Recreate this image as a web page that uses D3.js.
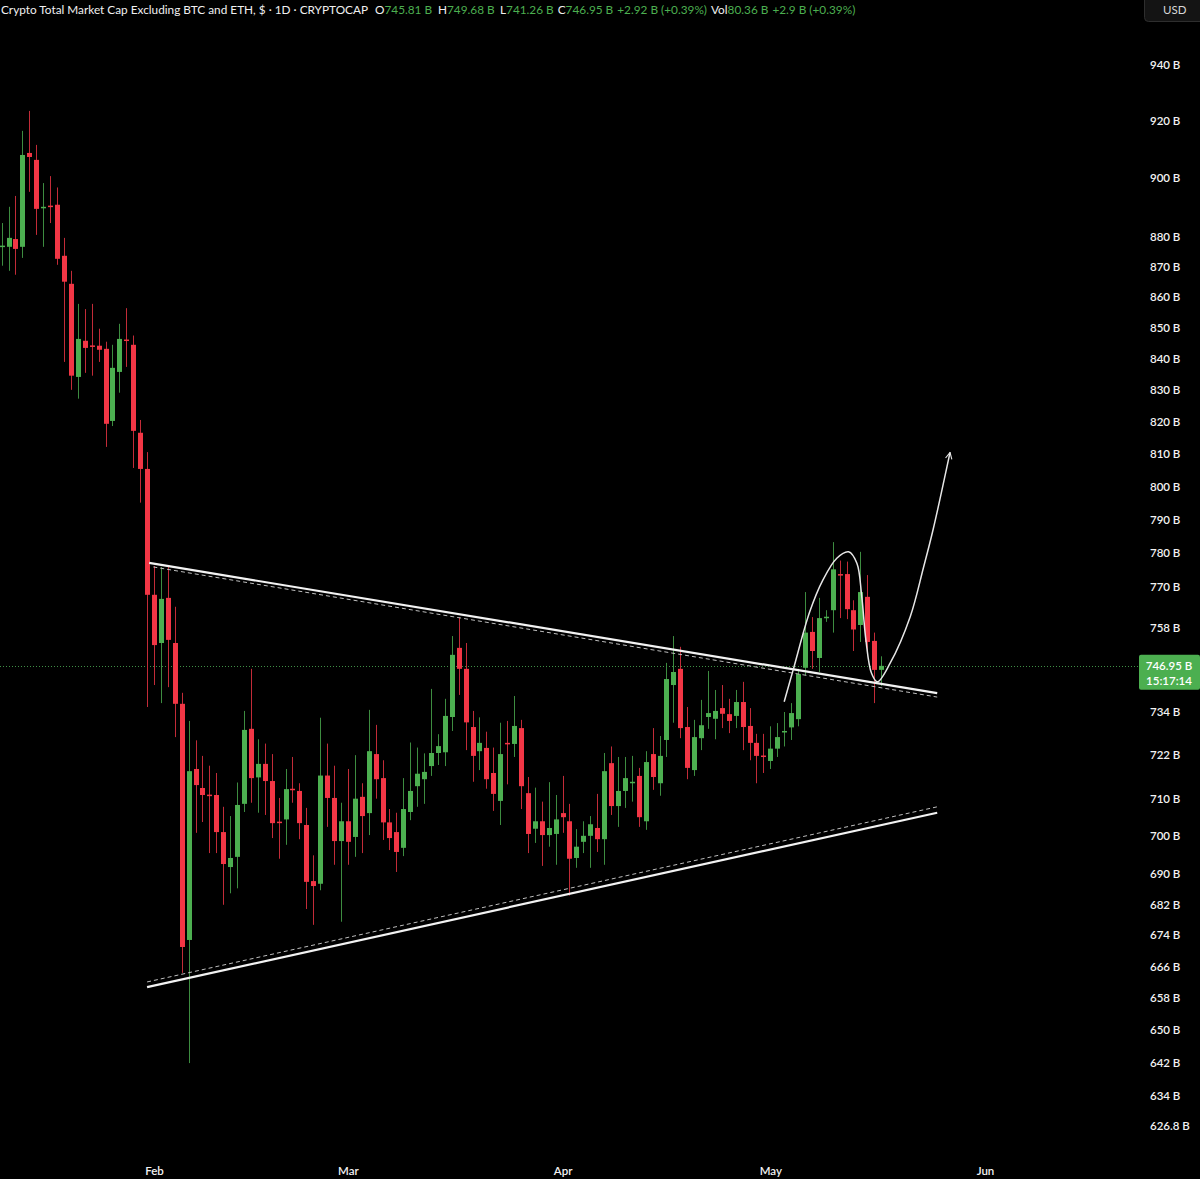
<!DOCTYPE html>
<html>
<head>
<meta charset="utf-8">
<script src="https://cdn.jsdelivr.net/npm/d3@7"></script>
<style>
  html, body { margin: 0; padding: 0; background: #000; }
  svg { display: block; }
  text { font-family: Lato, "Noto Sans", sans-serif; }
</style>
</head>
<body>
<svg id="chart" width="1200" height="1179"></svg>
<script>
// ---------- DATA ----------
const dates = [
  "2025-01-10","2025-01-11","2025-01-12","2025-01-13","2025-01-14","2025-01-15","2025-01-16","2025-01-17","2025-01-18","2025-01-19",
  "2025-01-20","2025-01-21","2025-01-22","2025-01-23","2025-01-24","2025-01-25","2025-01-26","2025-01-27","2025-01-28","2025-01-29",
  "2025-01-30","2025-01-31",
  "2025-02-01","2025-02-02","2025-02-03","2025-02-04","2025-02-05","2025-02-06","2025-02-07","2025-02-08","2025-02-09","2025-02-10",
  "2025-02-11","2025-02-12","2025-02-13","2025-02-14","2025-02-15","2025-02-16","2025-02-17","2025-02-18","2025-02-19","2025-02-20",
  "2025-02-21","2025-02-22","2025-02-23","2025-02-24","2025-02-25","2025-02-26","2025-02-27","2025-02-28",
  "2025-03-01","2025-03-02","2025-03-03","2025-03-04","2025-03-05","2025-03-06","2025-03-07","2025-03-08","2025-03-09","2025-03-10",
  "2025-03-11","2025-03-12","2025-03-13","2025-03-14","2025-03-15","2025-03-16","2025-03-17","2025-03-18","2025-03-19","2025-03-20",
  "2025-03-21","2025-03-22","2025-03-23","2025-03-24","2025-03-25","2025-03-26","2025-03-27","2025-03-28","2025-03-29","2025-03-30",
  "2025-03-31",
  "2025-04-01","2025-04-02","2025-04-03","2025-04-04","2025-04-05","2025-04-06","2025-04-07","2025-04-08","2025-04-09","2025-04-10",
  "2025-04-11","2025-04-12","2025-04-13","2025-04-14","2025-04-15","2025-04-16","2025-04-17","2025-04-18","2025-04-19","2025-04-20",
  "2025-04-21","2025-04-22","2025-04-23","2025-04-24","2025-04-25","2025-04-26","2025-04-27","2025-04-28","2025-04-29","2025-04-30",
  "2025-05-01","2025-05-02","2025-05-03","2025-05-04","2025-05-05","2025-05-06","2025-05-07","2025-05-08","2025-05-09","2025-05-10",
  "2025-05-11","2025-05-12","2025-05-13","2025-05-14","2025-05-15","2025-05-16","2025-05-17"
];
const open = [
  876.5,876.6,879.2,876.6,908.6,906.2,889.7,890.5,890.8,873.6,
  864.3,834.1,845.7,844.2,844.1,843.1,820.2,835.7,846.1,844.4,
  816.5,805.3,
  767.5,753.5,766.6,753.5,736.2,672.7,718.1,712.9,711.1,711.0,
  701.0,691.7,694.4,708.6,729.2,715.8,719.5,714.8,703.8,704.4,
  712.7,712.1,702.9,688.0,687.3,716.3,710.2,698.6,
  703.9,699.7,710.5,706.1,722.2,715.6,703.6,701.0,696.8,706.4,
  713.4,715.3,718.9,722.5,722.7,732.5,752.1,746.1,729.7,723.0,
  723.9,717.0,709.4,725.3,725.0,729.4,711.5,701.9,703.9,700.2,
  700.5,
  706.1,703.9,694.1,698.4,700.0,702.1,699.1,719.7,708.0,712.1,
  714.4,716.2,703.9,722.2,714.2,726.1,741.5,746.1,729.7,717.8,
  726.6,732.5,732.0,735.0,733.3,732.8,736.7,730.0,725.3,721.8,
  720.3,723.7,728.4,729.6,731.9,746.4,756.7,749.2,760.9,763.0,
  773.6,773.6,763.0,758.7,766.9,754.1,745.81
];
const high = [
  884.6,890.1,893.8,916.3,923.3,911.4,898.2,900.6,896.7,879.6,
  868.6,857.7,856.0,857.7,849.6,845.4,844.4,851.2,856.3,847.4,
  820.5,810.5,
  776.0,775.7,775.7,764.0,739.3,731.4,726.0,721.7,719.0,717.0,
  707.8,705.3,714.4,734.2,746.1,726.3,725.1,722.2,710.2,718.1,
  721.4,714.2,707.5,694.8,732.3,725.1,719.0,708.9,
  718.1,721.9,714.2,734.5,730.3,720.5,707.2,706.2,715.6,725.4,
  724.0,722.4,740.4,727.7,737.6,755.5,760.9,753.5,734.2,732.4,
  728.4,724.0,730.9,731.4,738.4,731.7,715.9,713.0,709.2,714.5,
  711.0,
  716.2,708.6,701.8,703.9,705.3,711.3,722.5,724.3,721.4,721.4,
  721.7,718.4,723.0,729.4,727.2,747.8,755.5,752.4,735.3,731.7,
  737.3,745.5,740.1,741.5,737.6,740.1,742.4,735.0,727.8,727.8,
  729.9,730.8,733.9,736.4,746.1,768.3,761.0,766.6,763.0,783.1,
  777.6,777.3,765.9,780.2,773.3,756.5,749.68
];
const low = [
  870.3,868.6,867.3,872.9,895.2,880.6,876.6,884.6,870.6,838.9,
  830.0,827.2,835.4,834.5,838.9,812.1,818.6,829.1,837.3,805.6,
  795.0,735.3,
  741.5,736.4,740.9,726.9,664.3,641.8,700.8,703.7,695.4,695.4,
  681.8,684.8,686.1,706.4,708.9,706.2,705.6,699.4,693.9,697.6,
  708.9,699.1,680.7,676.6,685.6,702.4,692.3,677.4,
  692.3,694.4,695.4,700.2,710.0,698.9,696.2,690.4,694.6,704.2,
  707.8,708.6,716.2,719.2,718.9,728.6,738.7,723.3,714.6,717.8,
  712.7,706.7,702.9,713.9,721.4,707.2,695.4,698.1,692.0,697.1,
  692.3,
  700.8,684.2,691.5,695.4,691.5,695.7,692.3,705.6,702.4,707.5,
  709.2,702.4,701.6,712.4,710.8,721.4,730.9,726.6,715.3,716.2,
  723.3,729.2,726.3,729.4,728.0,729.4,723.3,720.5,714.2,717.0,
  718.1,721.4,724.3,726.1,729.9,744.3,746.1,745.2,759.6,756.5,
  760.7,760.4,751.2,753.8,751.2,736.4,741.26
];
const close = [
  877.0,879.6,875.9,907.9,907.2,889.4,890.1,890.2,872.6,865.0,
  834.5,846.3,843.4,843.9,842.8,819.3,837.0,846.3,845.9,817.1,
  805.3,767.5,
  752.9,766.3,754.4,736.2,670.9,717.5,713.7,711.0,710.9,701.0,
  692.5,694.1,708.3,728.9,715.6,719.5,714.8,703.4,703.6,712.6,
  712.4,703.4,687.8,686.7,716.3,710.2,698.6,703.9,
  698.4,710.0,705.3,723.0,715.3,703.6,699.4,695.7,707.2,712.1,
  716.8,717.3,722.5,724.4,732.8,750.1,746.1,731.0,721.7,725.3,
  715.3,711.3,722.2,725.1,730.0,713.4,700.5,703.9,700.2,702.1,
  704.4,
  705.0,693.9,697.1,700.0,703.1,699.1,717.5,708.0,712.1,715.6,
  714.6,705.0,720.0,715.9,721.7,743.2,745.2,729.4,718.4,726.9,
  730.2,733.6,734.2,733.4,731.4,736.7,729.7,725.3,721.7,721.6,
  723.7,726.9,728.6,733.6,744.6,756.5,751.2,760.7,761.1,775.0,
  773.3,763.3,757.4,768.3,753.8,745.8,746.95
];

// price axis ticks (billions) and month labels
const priceTicks = [940, 920, 900, 880, 870, 860, 850, 840, 830, 820, 810, 800, 790, 780, 770, 758,
                    734, 722, 710, 700, 690, 682, 674, 666, 658, 650, 642, 634, 626.8];
const monthTicks = ["2025-02-01", "2025-03-01", "2025-04-01", "2025-05-01", "2025-06-01"];

// drawn trendlines: [days after 2025-02-01, value]
const upperLine = [[-0.7, 776.9], [113.1, 739.2]];
const upperDashed = [[-0.1, 775.7], [113.1, 738.1]];
const lowerLine = [[-1.0, 660.7], [113.1, 706.2]];
const lowerDashed = [[-1.0, 662.0], [113.1, 707.8]];
// projected path drawn on chart: [days after 2025-02-01, value]
const projection = [
  [91.0, 736.8], [92.3, 745.8], [94.7, 762.6], [96.6, 771.9], [98.6, 778.3], [100.3, 780.2],
  [101.5, 776.8], [102.2, 767.0], [102.8, 754.4], [103.6, 744.9], [104.45, 742.4], [106.3, 747.7],
  [109.2, 761.1], [111.1, 775.4], [112.5, 786.8], [114.95, 810.4]
];

// header
const title = "Crypto Total Market Cap Excluding BTC and ETH, $ · 1D · CRYPTOCAP";
const lastO = "745.81 B", lastH = "749.68 B", lastL = "741.26 B", lastC = "746.95 B";
const lastChange = "+2.92 B (+0.39%)";
const volume = "80.36 B", volChange = "+2.9 B (+0.39%)";
const lastPrice = 746.95, countdown = "15:17:14";

// ---------- LAYOUT ----------
const W = 1200, H = 1179;
const UP = "#4caf50", DOWN = "#f23645";
const svg = d3.select("#chart");
svg.append("rect").attr("width", W).attr("height", H).attr("fill", "#000");

const parse = d3.utcParse("%Y-%m-%d");
const feb1 = parse("2025-02-01");
const pxPerDay = 6.925, feb1X = 154;
const dStart = parse("2025-01-05"), dEnd = parse("2025-06-15");
const dayDiff = (a, b) => (b - a) / 86400000;
const x = d3.scaleUtc()
  .domain([dStart, dEnd])
  .range([feb1X + dayDiff(feb1, dStart) * pxPerDay, feb1X + dayDiff(feb1, dEnd) * pxPerDay]);
const y = d3.scaleLog().domain([626.8, 940]).range([1125, 64]);
const dayToDate = d => new Date(feb1.getTime() + d * 86400000);

const candles = dates.map((d, i) => ({
  date: parse(d), o: open[i], h: high[i], l: low[i], c: close[i]
}));

// current price dotted line
svg.append("line")
  .attr("x1", 0).attr("x2", 1139)
  .attr("y1", Math.round(y(lastPrice)) + 0.5).attr("y2", Math.round(y(lastPrice)) + 0.5)
  .attr("stroke", "#3f8f45").attr("stroke-width", 1).attr("stroke-dasharray", "1,2");

// candles
const g = svg.append("g");
g.selectAll("line.wick").data(candles).join("line")
  .attr("class", "wick")
  .attr("x1", d => Math.round(x(d.date)) + 0.5).attr("x2", d => Math.round(x(d.date)) + 0.5)
  .attr("y1", d => y(d.h)).attr("y2", d => y(d.l))
  .attr("stroke", d => d.c >= d.o ? "#3d8c40" : "#c22b38").attr("stroke-width", 1);
g.selectAll("rect.body").data(candles).join("rect")
  .attr("class", "body")
  .attr("x", d => Math.round(x(d.date)) - 2)
  .attr("width", 5)
  .attr("y", d => y(Math.max(d.o, d.c)))
  .attr("height", d => Math.max(1.5, Math.abs(y(d.o) - y(d.c))))
  .attr("fill", d => d.c >= d.o ? UP : DOWN);

// trendlines
const lineGen = d3.line().x(p => x(dayToDate(p[0]))).y(p => y(p[1]));
svg.append("path").attr("d", lineGen(upperDashed)).attr("fill", "none")
  .attr("stroke", "#bdbdbd").attr("stroke-width", 1).attr("stroke-dasharray", "4,3");
svg.append("path").attr("d", lineGen(lowerDashed)).attr("fill", "none")
  .attr("stroke", "#bdbdbd").attr("stroke-width", 1).attr("stroke-dasharray", "4,3");
svg.append("path").attr("d", lineGen(upperLine)).attr("fill", "none")
  .attr("stroke", "#f2f2f2").attr("stroke-width", 2.2);
svg.append("path").attr("d", lineGen(lowerLine)).attr("fill", "none")
  .attr("stroke", "#f2f2f2").attr("stroke-width", 2.2);

// projection curve with arrow head
svg.append("defs").append("marker")
  .attr("id", "arrow").attr("viewBox", "0 0 10 10").attr("refX", 9).attr("refY", 5)
  .attr("markerWidth", 8).attr("markerHeight", 8).attr("markerUnits", "userSpaceOnUse")
  .attr("orient", "auto")
  .append("path").attr("d", "M1,1 L9,5 L1,9").attr("fill", "none")
  .attr("stroke", "#e6e6e6").attr("stroke-width", 1.4);
const curveGen = d3.line().curve(d3.curveCatmullRom.alpha(0.5))
  .x(p => x(dayToDate(p[0]))).y(p => y(p[1]));
svg.append("path").attr("d", curveGen(projection)).attr("fill", "none")
  .attr("stroke", "#e6e6e6").attr("stroke-width", 1.5).attr("marker-end", "url(#arrow)");

// right price axis
const yAxis = d3.axisRight(y).tickValues(priceTicks).tickSize(0).tickPadding(0)
  .tickFormat(v => `${v} B`);
const ya = svg.append("g").attr("transform", "translate(1150,0)").call(yAxis);
ya.select(".domain").remove();
ya.selectAll("text").attr("fill", "#f2f2f2").attr("font-size", 11.5).attr("font-weight", 600)
  .attr("font-family", "Lato, 'Noto Sans', sans-serif").attr("dy", "0.35em");

// bottom time axis
const xAxis = d3.axisBottom(x).tickValues(monthTicks.map(parse)).tickSize(0).tickPadding(0)
  .tickFormat(d3.utcFormat("%b"));
const xa = svg.append("g").attr("transform", "translate(0,1167)").call(xAxis);
xa.select(".domain").remove();
xa.selectAll("text").attr("fill", "#f2f2f2").attr("font-size", 11.5).attr("font-weight", 600)
  .attr("font-family", "Lato, 'Noto Sans', sans-serif").attr("dy", "0.71em");

// price label
const py = y(lastPrice);
svg.append("rect").attr("x", 1139).attr("y", py - 11).attr("width", 61).attr("height", 35)
  .attr("rx", 2).attr("fill", UP);
svg.append("text").attr("x", 1169).attr("y", py + 4.5).attr("text-anchor", "middle")
  .attr("fill", "#fff").attr("font-size", 11.5).attr("font-weight", 600).text(`${lastPrice} B`);
svg.append("text").attr("x", 1169).attr("y", py + 19).attr("text-anchor", "middle")
  .attr("fill", "#fff").attr("font-size", 11.5).attr("font-weight", 600).text(countdown);

// USD box
svg.append("rect").attr("x", 1144.5).attr("y", -4.5).attr("width", 60).attr("height", 26)
  .attr("rx", 4).attr("fill", "#141414").attr("stroke", "#2e2e2e");
svg.append("text").attr("x", 1163).attr("y", 14).attr("fill", "#d8d8d8")
  .attr("font-size", 11.5).text("USD");

// header: pieces placed left to right, never overlapping
const hdr = svg.append("g").attr("font-size", 11.8);
let cursor = 0;
function place(refX, build) {
  const t = hdr.append("text").attr("x", Math.max(refX, cursor)).attr("y", 14);
  build(t);
  cursor = Math.max(refX, cursor) + t.node().getComputedTextLength() + 4;
}
place(1, t => t.attr("fill", "#f0f0f0").text(title));
[[375, "O", lastO], [438, "H", lastH], [500, "L", lastL], [550, "C", lastC]].forEach(([px, k, v]) => {
  place(px, t => {
    t.append("tspan").attr("fill", "#f0f0f0").text(k);
    t.append("tspan").attr("fill", "#4caf50").text(v);
  });
});
place(612, t => t.attr("fill", "#4caf50").text(lastChange));
place(705, t => {
  t.append("tspan").attr("fill", "#f0f0f0").text("Vol");
  t.append("tspan").attr("fill", "#4caf50").text(volume);
});
place(765, t => t.attr("fill", "#4caf50").text(volChange));
</script>
</body>
</html>
